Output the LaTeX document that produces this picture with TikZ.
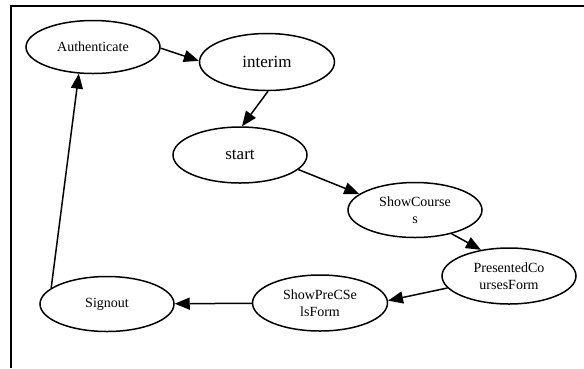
\documentclass[tikz,border=0pt]{standalone}
\usepackage{fontspec}
\setmainfont{Liberation Serif}
\usetikzlibrary{arrows.meta,shapes.geometric}

\begin{document}
\begin{tikzpicture}[x=1pt,y=-1pt]
    \tikzset{align=center,
        font=\fontsize{14}{16.8}\selectfont}
    \tikzset{vertex/.style = {shape=ellipse,draw,line width=1.5pt,inner sep=0pt,
        minimum width=134pt,minimum height=55pt}}
    \tikzset{bigtext/.style = {font=\fontsize{17}{20}\selectfont}}
    \tikzset{edge/.style = {line width=1.5pt,-{Triangle[length=15pt,width=12pt]}}}
    \useasboundingbox (0,0) rectangle (584,368);
    % frame
    \draw[line width=1.6pt] (11,368) -- (11,6) -- (584,6);
    % vertices
    \node[vertex,minimum height=53pt] (auth) at (93,47) {Authenticate};
    \node[vertex,bigtext,minimum width=135pt,minimum height=57pt] (interim) at (267,62) {interim};
    \node[vertex,bigtext,minimum height=56pt] (start) at (240,155) {start};
    \node[vertex] (showcourses) at (415,210) {ShowCourse\\s};
    \node[vertex,minimum height=56pt] (presented) at (509,276) {PresentedCo\\ursesForm};
    \node[vertex,minimum width=135pt,minimum height=56pt] (showpre) at (320,303) {ShowPreCSe\\lsForm};
    \node[vertex] (signout) at (107,304) {Signout};

    %edges
    \draw[edge] (auth.-1) -- (interim.179);
    \draw[edge] (interim.-88) -- (start.86);
    \draw[edge] (start.-14) -- (showcourses.164);
    \draw[edge] (showcourses.-33) -- (presented.137);
    \draw[edge] (presented.191) -- (showpre.2);
    \draw[edge] (showpre) -- (signout);
    \draw[edge] (signout.164) -- (auth.-118);
\end{tikzpicture}
\end{document}
